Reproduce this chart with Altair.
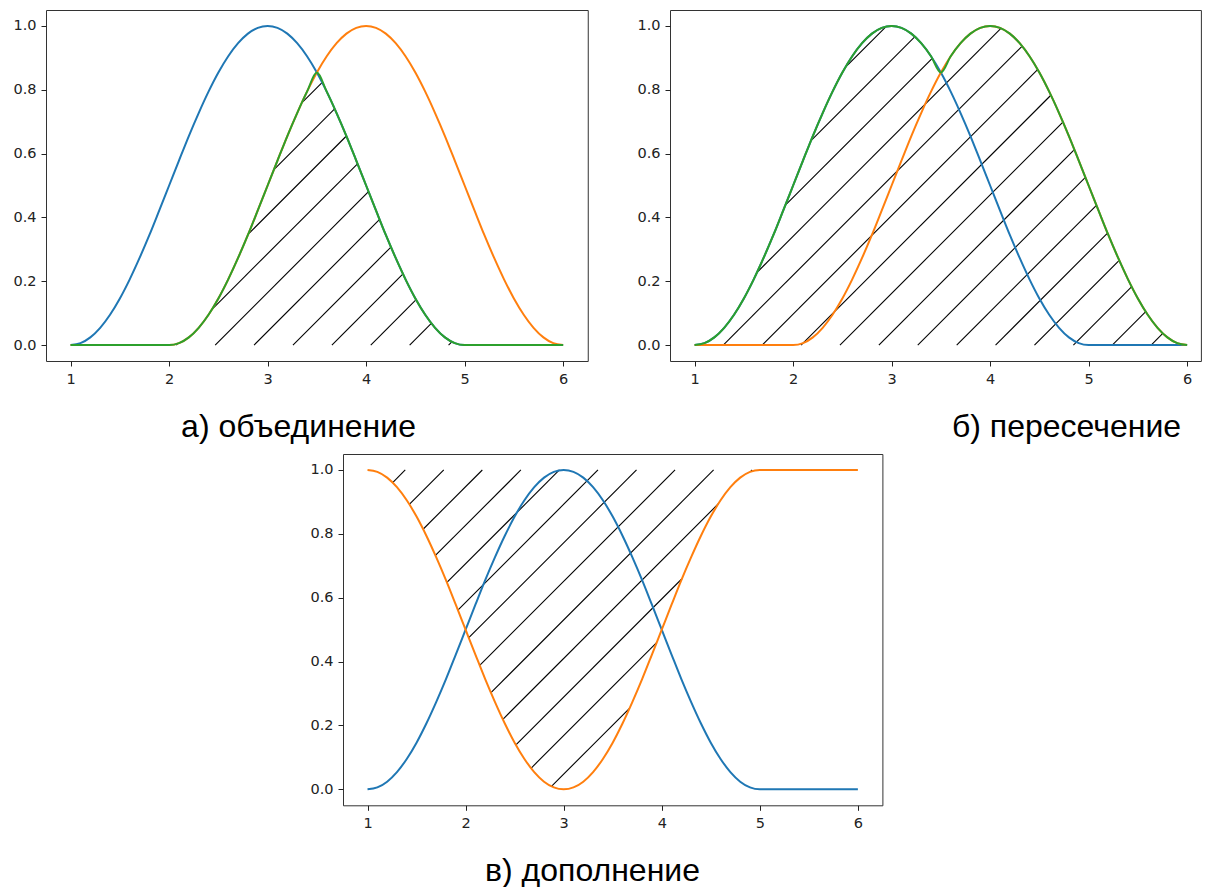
import numpy as np
import pandas as pd
import altair as alt

# ---------------- values ----------------
X_TICKS = [1, 2, 3, 4, 5, 6]
Y_TICKS = [0.0, 0.2, 0.4, 0.6, 0.8, 1.0]
X_FIRST, X_LAST, X_STEP = 1.0, 6.0, 0.1
# bell-shaped membership read at x = 1.0, 1.1, ..., 5.0 (peak at x = 3)
BELL = [0.000, 0.006, 0.024, 0.054, 0.095, 0.146, 0.206, 0.273, 0.345, 0.422,
        0.500, 0.578, 0.655, 0.727, 0.794, 0.854, 0.905, 0.946, 0.976, 0.994,
        1.000, 0.994, 0.976, 0.946, 0.905, 0.854, 0.794, 0.727, 0.655, 0.578,
        0.500, 0.422, 0.345, 0.273, 0.206, 0.146, 0.095, 0.054, 0.024, 0.006,
        0.000]
BLUE_SHIFT = 0      # set A: bell starts at x = 1
ORANGE_SHIFT = 10   # set B: bell starts at x = 2 (10 steps later)
CAPTIONS = ["а) объединение", "б) пересечение", "в) дополнение"]

# ---------------- styling ----------------
C_BLUE, C_ORANGE, C_GREEN = "#1f77b4", "#ff7f0e", "#2ca02c"
LINE_W = 2.0
Y_DOM = [-0.05, 1.05]

n = int(round((X_LAST - X_FIRST) / X_STEP)) + 1
xs = np.round(X_FIRST + X_STEP * np.arange(n), 2)
blue = np.zeros(n)
blue[BLUE_SHIFT:BLUE_SHIFT + len(BELL)] = BELL
orange = np.zeros(n)
orange[ORANGE_SHIFT:ORANGE_SHIFT + len(BELL)] = BELL


def hatch(lower, upper, xdom, width, height, spacing, phase):
    """45-degree hatch lines ('/') clipped to the region lower <= y <= upper."""
    sx = width / (xdom[1] - xdom[0])
    sy = height / (Y_DOM[1] - Y_DOM[0])
    fx = np.linspace(X_FIRST, X_LAST, 20001)
    lo = np.interp(fx, xs, lower)
    hi = np.interp(fx, xs, upper)
    px = (fx - xdom[0]) * sx
    segs = []
    c = phase
    while c < width + height + spacing:
        yl = Y_DOM[1] - (c - px) / sy
        inside = (yl >= lo - 1e-9) & (yl <= hi + 1e-9) & (hi - lo > 1e-6)
        idx = np.flatnonzero(inside)
        if idx.size:
            br = np.flatnonzero(np.diff(idx) > 1)
            starts = np.r_[idx[0], idx[br + 1]]
            ends = np.r_[idx[br], idx[-1]]
            for s, e in zip(starts, ends):
                if (px[e] - px[s]) * 1.414 > 2.0:
                    segs.append({"x": fx[s], "y": yl[s], "x2": fx[e], "y2": yl[e]})
        c += spacing
    return pd.DataFrame(segs)


def panel(series, segs, caption, xdom, width, height, cap_x, cap_y):
    xscale = alt.Scale(domain=xdom, nice=False, zero=False)
    yscale = alt.Scale(domain=Y_DOM, nice=False, zero=False)
    xaxis = alt.Axis(values=X_TICKS, format="d", title=caption,
                     titleX=cap_x, titleY=cap_y, titleAlign="center",
                     titleBaseline="alphabetic", titleFont="Liberation Sans",
                     titleFontSize=32, titleFontWeight="normal",
                     titleColor="#000000", titleAngle=0)
    yaxis = alt.Axis(values=Y_TICKS, format=".1f", title=None)
    X = alt.X("x:Q", scale=xscale, axis=xaxis)
    layers = [
        alt.Chart(segs).mark_rule(color="#000000", strokeWidth=1.1).encode(
            x=X, y=alt.Y("y:Q", scale=yscale, axis=yaxis),
            x2="x2:Q", y2="y2:Q")
    ]
    df = pd.DataFrame({"x": xs})
    for name, vals, col in series:
        df[name] = vals
    for name, vals, col in series:
        layers.append(
            alt.Chart(df).mark_line(color=col, strokeWidth=LINE_W,
                                    interpolate="monotone").encode(
                x=X, y=alt.Y(f"{name}:Q", scale=yscale, axis=yaxis)))
    return alt.layer(*layers).properties(width=width, height=height)


# panel a
WA, HA, XA = 541.75, 351, [0.75, 6.25]
green_a = np.minimum(blue, orange)
pa = panel([("blue", blue, C_BLUE), ("orange", orange, C_ORANGE),
            ("green", green_a, C_GREEN)],
           hatch(np.zeros(n), green_a, XA, WA, HA, 38.9, 37.4),
           CAPTIONS[0], XA, WA, HA, 252, 75)

# panel b
WB, HB, XB = 530.9, 351, [0.75, 6.14]
green_b = np.maximum(blue, orange)
pb = panel([("blue", blue, C_BLUE), ("orange", orange, C_ORANGE),
            ("green", green_b, C_GREEN)],
           hatch(np.zeros(n), green_b, XB, WB, HB, 38.9, 38.2),
           CAPTIONS[1], XB, WB, HB, 396, 75)

# panel c
WC, HC, XC = 539.4, 351.3, [0.75, 6.25]
orange_c = 1 - blue
pc = panel([("blue", blue, C_BLUE), ("orange", orange_c, C_ORANGE)],
           hatch(orange_c, np.ones(n), XC, WC, HC, 38.55, 1.1),
           CAPTIONS[2], XC, WC, HC, 249, 75)

spacer = alt.Chart(pd.DataFrame({"v": [0]})).mark_point(opacity=0).properties(
    width=262, height=20, view=alt.ViewBackground(stroke="transparent"))

row1 = alt.hconcat(pa, pb, spacing=47)
row2 = alt.hconcat(spacer, pc, spacing=0)

chart = alt.vconcat(row1, row2, spacing=10).properties(
    padding={"left": 4, "top": 1, "right": 0, "bottom": 0},
    background="white",
).configure_view(
    stroke="#333333", strokeWidth=1
).configure_axis(
    grid=False, domain=False, ticks=True, tickColor="#222222", tickSize=5,
    tickWidth=1, labelFont="DejaVu Sans", labelFontSize=14.5,
    labelColor="#222222"
).configure_axisX(labelPadding=6).configure_axisY(labelPadding=5)

chart.save("out.html", embed_options={"renderer": "svg", "actions": False})
